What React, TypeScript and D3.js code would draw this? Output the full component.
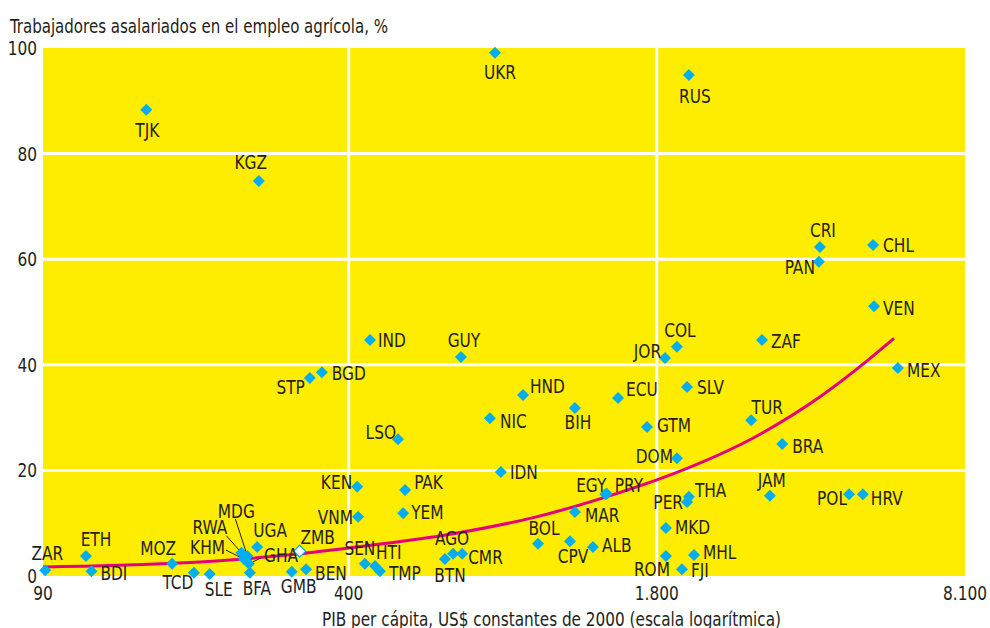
import React, { useEffect, useRef } from 'react';
import * as d3 from 'd3';

// Country codes, GDP per capita (constant 2000 US$) and share of wage workers in agriculture (%)
const countries = [
  'ZAR', 'ETH', 'BDI', 'MOZ', 'TCD', 'SLE', 'RWA', 'KHM', 'MDG', 'GHA', 'BFA', 'UGA',
  'ZMB', 'GMB', 'BEN', 'SEN', 'HTI', 'TMP', 'KEN', 'VNM', 'PAK', 'YEM', 'LSO', 'IND',
  'STP', 'BGD', 'TJK', 'KGZ', 'GUY', 'UKR', 'RUS', 'NIC', 'HND', 'IDN', 'BIH', 'BTN',
  'AGO', 'CMR', 'BOL', 'CPV', 'ALB', 'MAR', 'EGY', 'PRY', 'ECU', 'GTM', 'DOM', 'JOR',
  'COL', 'SLV', 'ZAF', 'TUR', 'BRA', 'THA', 'PER', 'MKD', 'ROM', 'MHL', 'FJI', 'JAM',
  'POL', 'HRV', 'CRI', 'PAN', 'CHL', 'VEN', 'MEX',
];
const gdpPerCapita = [
  91, 111, 114, 169, 188, 203, 237, 240, 244, 246, 247, 256,
  315, 303, 325, 433, 455, 466, 417, 419, 527, 522, 509, 444,
  331, 351, 149, 258, 692, 817, 2105, 797, 937, 841, 1207, 640,
  666, 696, 1008, 1178, 1318, 1207, 1400, 1410, 1490, 1716, 1986, 1874,
  1986, 2086, 3008, 2853, 3320, 2105, 2086, 1882, 1882, 2158, 2035, 3125,
  4598, 4920, 3990, 3970, 5173, 5197, 5838,
];
const wageShare = [
  1.1, 3.8, 0.9, 2.3, 0.6, 0.4, 4.4, 3.2, 3.8, 2.3, 0.6, 5.5,
  4.7, 0.8, 1.3, 2.3, 1.9, 0.9, 16.9, 11.2, 16.3, 11.9, 25.9, 44.7,
  37.5, 38.6, 88.3, 74.8, 41.5, 99.1, 94.9, 29.9, 34.3, 19.7, 31.8, 3.2,
  4.2, 4.2, 6.1, 6.6, 5.5, 12.1, 15.5, 15.6, 33.7, 28.2, 22.3, 41.3,
  43.4, 35.8, 44.7, 29.5, 25.0, 15.0, 14.0, 9.1, 3.8, 4.0, 1.3, 15.2,
  15.5, 15.5, 62.3, 59.5, 62.7, 51.1, 39.4,
];
// ZMB is drawn as a hollow marker
const hollow = ['ZMB'];

// Trend curve
const trendGdp = [90, 170, 315, 400, 666, 1000, 1500, 1800, 3000, 4000, 5000, 5730];
const trendShare = [1.7, 2.4, 4.2, 5.3, 8.0, 11.2, 15.8, 18.2, 27.0, 34.0, 40.6, 45.0];

const xTicks = [90, 400, 1800, 8100];
const xTickLabels = ['90', '400', '1.800', '8.100'];
const yTicks = [0, 20, 40, 60, 80, 100];

const yTitle = 'Trabajadores asalariados en el empleo agrícola, %';
const xTitle = 'PIB per cápita, US$ constantes de 2000 (escala logarítmica)';

// label placement: [anchor, dx, dy] relative to the marker; optional leader line start [x1,y1] offset from marker
const labelPos: Record<string, [string, number, number, number?, number?]> = {
  ZAR: ['middle', 2, -10], ETH: ['middle', 10, -10], BDI: ['start', 9, 9],
  MOZ: ['middle', -14, -9], TCD: ['middle', -16, 16], SLE: ['middle', 9, 22],
  RWA: ['end', -14, -19, -15, -17], KHM: ['end', -19, -5, -18, -9],
  MDG: ['middle', -11, -38, -12, -37], GHA: ['start', 15, -2, 12, -6],
  BFA: ['middle', 7, 22], UGA: ['middle', 13, -10], ZMB: ['middle', 18, -7],
  GMB: ['middle', 7, 21], BEN: ['start', 9, 11], SEN: ['middle', -5, -9],
  HTI: ['start', 1, -7], TMP: ['start', 9, 9], KEN: ['end', -5, 2],
  VNM: ['end', -5, 7], PAK: ['start', 9, -1], YEM: ['start', 8, 6],
  LSO: ['end', -2, 0], IND: ['start', 8, 7], STP: ['end', -5, 16],
  BGD: ['start', 10, 8], TJK: ['middle', 1, 27], KGZ: ['middle', -8, -12],
  GUY: ['middle', 3, -10], UKR: ['middle', 5, 26], RUS: ['middle', 6, 28],
  NIC: ['start', 10, 10], HND: ['start', 7, -2], IDN: ['start', 9, 7],
  BIH: ['middle', 3, 21], BTN: ['middle', 5, 23], AGO: ['middle', -1, -9],
  CMR: ['start', 6, 10], BOL: ['middle', 6, -9], CPV: ['middle', 3, 22],
  ALB: ['start', 9, 5], MAR: ['start', 10, 10], EGY: ['end', 1, -2],
  PRY: ['start', 8, -2], ECU: ['start', 8, -2], GTM: ['start', 10, 5],
  DOM: ['end', -4, 5], JOR: ['end', -4, 0], COL: ['middle', 3, -10],
  SLV: ['start', 10, 7], ZAF: ['start', 9, 8], TUR: ['middle', 16, -6],
  BRA: ['start', 10, 9], THA: ['start', 6, 0], PER: ['end', -4, 7],
  MKD: ['start', 9, 6], ROM: ['middle', -14, 20], MHL: ['start', 9, 4],
  FJI: ['start', 9, 8], JAM: ['middle', 2, -9], POL: ['end', -2, 11],
  HRV: ['start', 8, 11], CRI: ['middle', 3, -10], PAN: ['end', -4, 12],
  CHL: ['start', 10, 7], VEN: ['start', 9, 9], MEX: ['start', 9, 9],
};

const FONT = '"Liberation Sans Narrow", "Arial Narrow", "DejaVu Sans Condensed", sans-serif';
const NARROW = 0.9; // squeeze text horizontally to get a condensed look

function ScatterChart() {
  const svgRef = useRef<SVGSVGElement>(null);

  useEffect(() => {
    const svg = d3.select(svgRef.current);
    svg.selectAll('*').remove();

    const left = 43, right = 965, top = 48, bottom = 576;

    const x = d3.scaleLog().domain([90, 8100]).range([left, right]);
    const y = d3.scaleLinear().domain([0, 100]).range([bottom, top]);

    const data = countries.map((c, i) => ({ code: c, gdp: gdpPerCapita[i], share: wageShare[i] }));

    const place = (px: number, py: number) => `translate(${px},${py}) scale(${NARROW},1)`;

    // yellow plot area
    svg.append('rect')
      .attr('x', left).attr('y', top)
      .attr('width', right - left).attr('height', bottom - top)
      .attr('fill', '#FFED00');

    // grid lines
    svg.selectAll('.hgrid')
      .data(yTicks.filter(d => d > 0 && d < 100))
      .join('line')
      .attr('x1', left).attr('x2', right)
      .attr('y1', d => y(d)).attr('y2', d => y(d))
      .attr('stroke', '#fff').attr('stroke-width', 3);
    svg.selectAll('.vgrid')
      .data(xTicks.slice(1, -1))
      .join('line')
      .attr('x1', d => x(d)).attr('x2', d => x(d))
      .attr('y1', top).attr('y2', bottom)
      .attr('stroke', '#fff').attr('stroke-width', 3);

    // axis labels
    svg.selectAll('.ylab')
      .data(yTicks)
      .join('text')
      .attr('transform', d => place(37, y(d) + 7))
      .attr('text-anchor', 'end')
      .style('font-size', '19px').style('font-family', FONT).style('fill', '#231F20')
      .text(d => d);
    svg.selectAll('.xlab')
      .data(xTicks)
      .join('text')
      .attr('transform', d => place(x(d), 600))
      .attr('text-anchor', 'middle')
      .style('font-size', '19px').style('font-family', FONT).style('fill', '#231F20')
      .text((d, i) => xTickLabels[i]);

    svg.append('text')
      .attr('x', 10).attr('y', 33)
      .attr('textLength', 378).attr('lengthAdjust', 'spacingAndGlyphs')
      .style('font-size', '19px').style('font-family', FONT).style('fill', '#231F20')
      .text(yTitle);
    svg.append('text')
      .attr('x', 322).attr('y', 626)
      .attr('textLength', 459).attr('lengthAdjust', 'spacingAndGlyphs')
      .style('font-size', '19px').style('font-family', FONT).style('fill', '#231F20')
      .text(xTitle);

    // trend curve
    const line = d3.line<number>()
      .x((d, i) => x(trendGdp[i]))
      .y(d => y(d))
      .curve(d3.curveMonotoneX);
    svg.append('path')
      .attr('d', line(trendShare))
      .attr('fill', 'none')
      .attr('stroke', '#E5007E')
      .attr('stroke-width', 3);

    // leader lines
    svg.selectAll('.leader')
      .data(data.filter(d => labelPos[d.code] && labelPos[d.code][3] !== undefined))
      .join('line')
      .attr('x1', d => x(d.gdp) + (labelPos[d.code][3] as number))
      .attr('y1', d => y(d.share) + (labelPos[d.code][4] as number))
      .attr('x2', d => x(d.gdp))
      .attr('y2', d => y(d.share))
      .attr('stroke', '#231F20').attr('stroke-width', 1);

    // markers
    const diamond = d3.symbol().type(d3.symbolSquare).size(72);
    svg.selectAll('.pt')
      .data(data)
      .join('path')
      .attr('d', diamond)
      .attr('transform', d => `translate(${x(d.gdp)},${y(d.share)}) rotate(45)`)
      .attr('fill', d => hollow.includes(d.code) ? '#fff' : '#00AEEF')
      .attr('stroke', d => hollow.includes(d.code) ? '#00AEEF' : 'none')
      .attr('stroke-width', 1.2);

    // country labels
    svg.selectAll('.lbl')
      .data(data)
      .join('text')
      .attr('transform', d => place(x(d.gdp) + labelPos[d.code][1], y(d.share) + labelPos[d.code][2]))
      .attr('text-anchor', d => labelPos[d.code][0])
      .style('font-size', '19px').style('font-family', FONT).style('fill', '#231F20')
      .text(d => d.code);
  }, []);

  return <svg ref={svgRef} width={990} height={628} style={{ display: 'block' }} />;
}

export default function App() {
  return (
    <div style={{ position: 'absolute', left: 0, top: 0, background: '#fff' }}>
      <ScatterChart />
    </div>
  );
}
